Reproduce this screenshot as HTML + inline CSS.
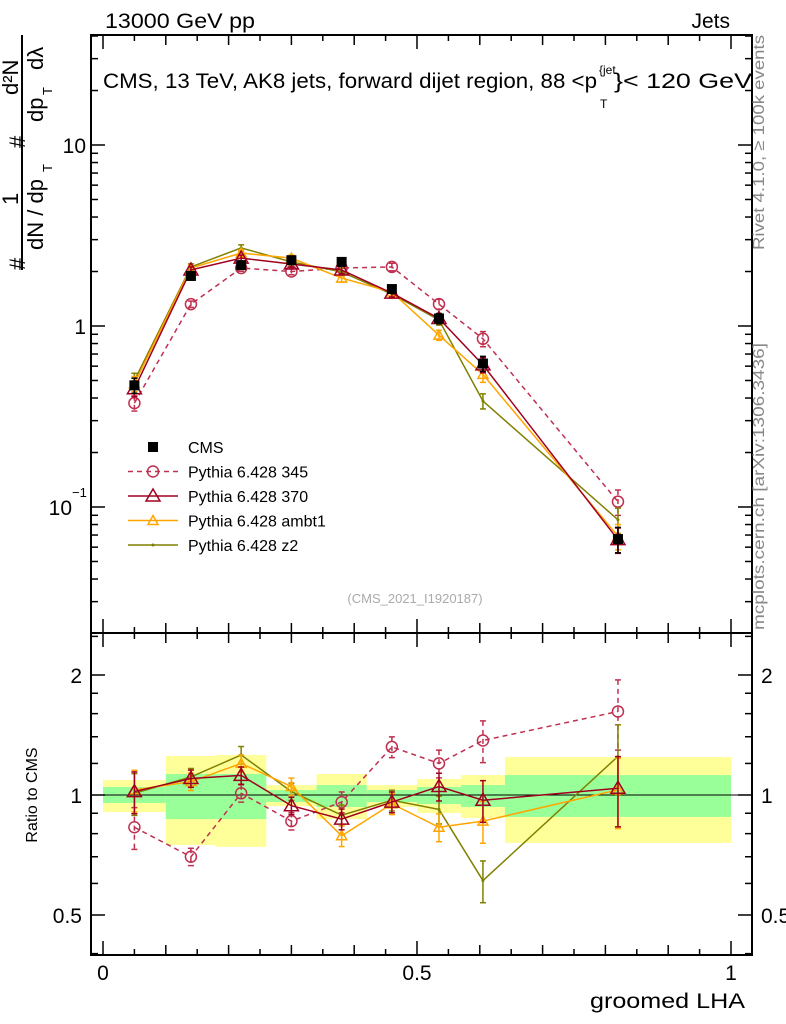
<!DOCTYPE html>
<html><head><meta charset="utf-8"><style>
body{margin:0;background:#fff}
svg{display:block;font-family:"Liberation Sans",sans-serif}
</style></head><body>
<svg id="c" width="786" height="1024" viewBox="0 0 786 1024"></svg>
<script>
const xs=[0.05,0.14,0.22,0.30,0.38,0.46,0.535,0.605,0.82];
const binEdges=[0,0.1,0.18,0.26,0.34,0.42,0.5,0.57,0.64,1.0];
const cmsVals=[0.47,1.89,2.17,2.31,2.26,1.6,1.1,0.62,0.0665];
const p345=[0.375,1.32,2.09,2.0,2.09,2.12,1.32,0.85,0.107];
const p370=[0.45,2.04,2.37,2.2,2.04,1.52,1.1,0.61,0.066];
const pambt1=[0.48,2.09,2.53,2.37,1.84,1.54,0.89,0.54,0.069];
const pz2=[0.5,2.12,2.7,2.26,1.99,1.5,1.08,0.385,0.085];
const r345=[0.83,0.70,1.01,0.86,0.96,1.32,1.2,1.37,1.62];
const r370=[1.02,1.10,1.12,0.94,0.87,0.96,1.05,0.97,1.04];
const rambt1=[1.03,1.08,1.2,1.05,0.79,0.95,0.83,0.86,1.03];
const rz2=[1.01,1.11,1.26,1.02,0.89,0.97,0.92,0.61,1.25];
const relErr=[0.12,0.05,0.05,0.05,0.06,0.06,0.08,0.12,0.2];
const bandOuterHi=[1.09,1.253,1.26,1.059,1.129,1.059,1.097,1.122,1.245];
const bandOuterLo=[0.906,0.749,0.741,0.938,0.870,0.933,0.901,0.876,0.758];
const bandInnerHi=[1.047,1.129,1.129,1.029,1.059,1.029,1.047,1.059,1.122];
const bandInnerLo=[0.955,0.870,0.870,0.960,0.933,0.960,0.949,0.933,0.881];
const yTickVals=[0.1,1,10];
const yTickLabels=["10","1","10"];
const rTickVals=[0.5,1,2];
const rTickLabels=["0.5","1","2"];
const xTickVals=[0,0.5,1];
const xTickLabels=["0","0.5","1"];

const NS="http://www.w3.org/2000/svg";
const svg=document.getElementById('c');
const L=91,R=752,T=35,M=633,B=955;
const X=v=>103+628*v;
const Y=v=>326-181*Math.log10(v);
const RY=v=>795-120*Math.log2(v);
function el(tag,attrs,parent,txt){const e=document.createElementNS(NS,tag);for(const k in attrs)e.setAttribute(k,attrs[k]);if(txt!==undefined)e.textContent=txt;(parent||svg).appendChild(e);return e;}
function txt(x,y,s,size,opts){const o=Object.assign({x:x,y:y,'font-size':size},opts||{});return el('text',o,svg,s);}

const bands=el('g',{});


for(let i=0;i<xs.length;i++){
  const x0=X(binEdges[i]),x1=X(binEdges[i+1]);
  const o=el('rect',{x:x0,y:RY(bandOuterHi[i]),width:x1-x0,height:RY(bandOuterLo[i])-RY(bandOuterHi[i]),fill:'#ffff99'},bands);
  
  
}
for(let i=0;i<xs.length;i++){
  const x0=X(binEdges[i]),x1=X(binEdges[i+1]);
  const o=el('rect',{x:x0,y:RY(bandInnerHi[i]),width:x1-x0,height:RY(bandInnerLo[i])-RY(bandInnerHi[i]),fill:'#99ff99'},bands);
  
  
}
el('line',{x1:L,x2:R,y1:RY(1),y2:RY(1),stroke:'#000','stroke-width':1});

el('rect',{x:L,y:T,width:R-L,height:M-T,fill:'none',stroke:'#000','stroke-width':2});
el('rect',{x:L,y:M,width:R-L,height:B-M,fill:'none',stroke:'#000','stroke-width':2});

for(let k=0;k<=20;k++){
  const v=k*0.05,x=X(v);
  const len=(k%10==0)?14:(k%2==0?10:6);
  for(const [y0,d] of [[T,1],[M,-1],[M,1],[B,-1]]) el('line',{x1:x,x2:x,y1:y0,y2:y0+d*len,stroke:'#000','stroke-width':1.5});
}
xTickVals.forEach((v,i)=>{const t=txt(X(v),980,xTickLabels[i],21,{'text-anchor':'middle'});});
for(let d=-2;d<=1;d++){for(let m=1;m<10;m++){const v=m*Math.pow(10,d);const y=Y(v);if(y<T||y>M)continue;const len=m==1?14:7;
 el('line',{x1:L,x2:L+len,y1:y,y2:y,stroke:'#000','stroke-width':1.5});el('line',{x1:R,x2:R-len,y1:y,y2:y,stroke:'#000','stroke-width':1.5});}}
yTickVals.forEach((v,i)=>{const t=txt(v==0.1?72:86,Y(v)+8,yTickLabels[i],21,{'text-anchor':'end'});});
txt(72,497,"−1",13,{});
[0.3,0.4,0.5,0.6,0.7,0.8,0.9,1,1.2,1.4,1.6,1.8,2,2.5].forEach(v=>{const y=RY(v);if(y<M||y>B)return;const len=(v==0.5||v==1||v==2)?14:7;
 el('line',{x1:L,x2:L+len,y1:y,y2:y,stroke:'#000','stroke-width':1.5});el('line',{x1:R,x2:R-len,y1:y,y2:y,stroke:'#000','stroke-width':1.5});});
rTickVals.forEach((v,i)=>{const a=txt(82,RY(v)+8,rTickLabels[i],21,{'text-anchor':'end'});
 const b=txt(761,RY(v)+8,rTickLabels[i],21,{});});

function series(vals,rvals,color,marker,dash,name,isData){
  const g=el('g',{});
  
  
  for(const [arr,F,isR] of [[vals,Y,false],[rvals,RY,true]]){
    if(!arr)continue;
    if(!isData){el('polyline',{points:arr.map((v,i)=>X(xs[i])+','+F(v)).join(' '),fill:'none',stroke:color,'stroke-width':1.5,'stroke-dasharray':dash||''},g);}
    arr.forEach((v,i)=>{const x=X(xs[i]),y=F(v);const e=relErr[i]*(isR?1:0.8);
      el('line',{x1:x,x2:x,y1:F(v*(1+e)),y2:F(v*(1-e)),stroke:color,'stroke-width':1.5,'stroke-dasharray':dash||''},g);
      el('line',{x1:x-3,x2:x+3,y1:F(v*(1+e)),y2:F(v*(1+e)),stroke:color,'stroke-width':1.5},g);
      el('line',{x1:x-3,x2:x+3,y1:F(v*(1-e)),y2:F(v*(1-e)),stroke:color,'stroke-width':1.5},g);
      drawMarker(g,marker,x,y,color);});
  }
}
function drawMarker(g,m,x,y,c){
  let e;
  if(m=='sq')e=el('rect',{x:x-5,y:y-5,width:10,height:10,fill:'#000'},g);
  else if(m=='circ')e=el('circle',{cx:x,cy:y,r:5.5,fill:'none',stroke:c,'stroke-width':1.5},g);
  else if(m=='tri')e=el('polygon',{points:`${x},${y-7} ${x-7},${y+5} ${x+7},${y+5}`,fill:'none',stroke:c,'stroke-width':1.5},g);
  else if(m=='tris')e=el('polygon',{points:`${x},${y-5} ${x-5},${y+4} ${x+5},${y+4}`,fill:'none',stroke:c,'stroke-width':1.5},g);
  else e=el('circle',{cx:x,cy:y,r:1.5,fill:c},g);
  
  
}
series(p345,r345,'#bf3050','circ','5,4','series-pythia-345');
series(pz2,rz2,'#808000','dot','','series-pythia-z2');
series(pambt1,rambt1,'#ffa500','tris','','series-pythia-ambt1');
series(p370,r370,'#a00020','tri','','series-pythia-370');
series(cmsVals,null,'#000','sq','','series-cms-data',true);

const leg=[['CMS','#000','sq',''],['Pythia 6.428 345','#bf3050','circ','5,4'],['Pythia 6.428 370','#a00020','tri',''],['Pythia 6.428 ambt1','#ffa500','tris',''],['Pythia 6.428 z2','#808000','dot','']];
leg.forEach((l,i)=>{const y=447+i*24.5;const g=el('g',{});
  
  
  if(i>0)el('line',{x1:128,x2:178,y1:y,y2:y,stroke:l[1],'stroke-width':1.5,'stroke-dasharray':l[3]},g);
  drawMarker(g,l[2],153,y,l[1]);
  el('text',{x:188,y:y+6,'font-size':16},g,l[0]);});

let t;
t=txt(105,28,"13000 GeV pp",21,{textLength:150,lengthAdjust:'spacingAndGlyphs'});
t=txt(730,28,"Jets",21,{'text-anchor':'end'});
t=txt(103,88,"CMS, 13 TeV, AK8 jets, forward dijet region, 88 <p",21,{textLength:494,lengthAdjust:'spacingAndGlyphs'});
txt(599,74,"{jet",12);txt(600,108,"T",12);txt(614,88,"}< 120 GeV",21,{textLength:138,lengthAdjust:'spacingAndGlyphs'});
t=txt(415,603,"(CMS_2021_I1920187)",13,{fill:'#aaa','text-anchor':'middle'});
t=txt(745,1008,"groomed LHA",21,{'text-anchor':'end',textLength:155,lengthAdjust:'spacingAndGlyphs'});
t=txt(0,0,"Ratio to CMS",16,{transform:'translate(37,795) rotate(-90)','text-anchor':'middle'});
t=txt(0,0,"Rivet 4.1.0, \u2265 100k events",16,{transform:'translate(764,250) rotate(-90)',fill:'#888',textLength:215,lengthAdjust:'spacingAndGlyphs'});
t=txt(0,0,"mcplots.cern.ch [arXiv:1306.3436]",16,{transform:'translate(764,630) rotate(-90)',fill:'#888',textLength:287,lengthAdjust:'spacingAndGlyphs'});
const yt=el('g',{transform:'rotate(-90)'});


el('line',{x1:-270,x2:-35,y1:22,y2:22,stroke:'#000','stroke-width':2},yt);
el('text',{x:-270,y:25,'font-size':22},yt,"#");
el('text',{x:-205,y:18,'font-size':22},yt,"1");
el('text',{x:-250,y:43,'font-size':22},yt,"dN / dp");
el('text',{x:-172,y:52,'font-size':13},yt,"T");
el('text',{x:-148,y:25,'font-size':22},yt,"#");
el('text',{x:-95,y:18,'font-size':22},yt,"d²N");
el('text',{x:-122,y:43,'font-size':22},yt,"dp");
el('text',{x:-95,y:52,'font-size':13},yt,"T");
el('text',{x:-70,y:43,'font-size':22},yt,"dλ");
</script>
</body></html>
